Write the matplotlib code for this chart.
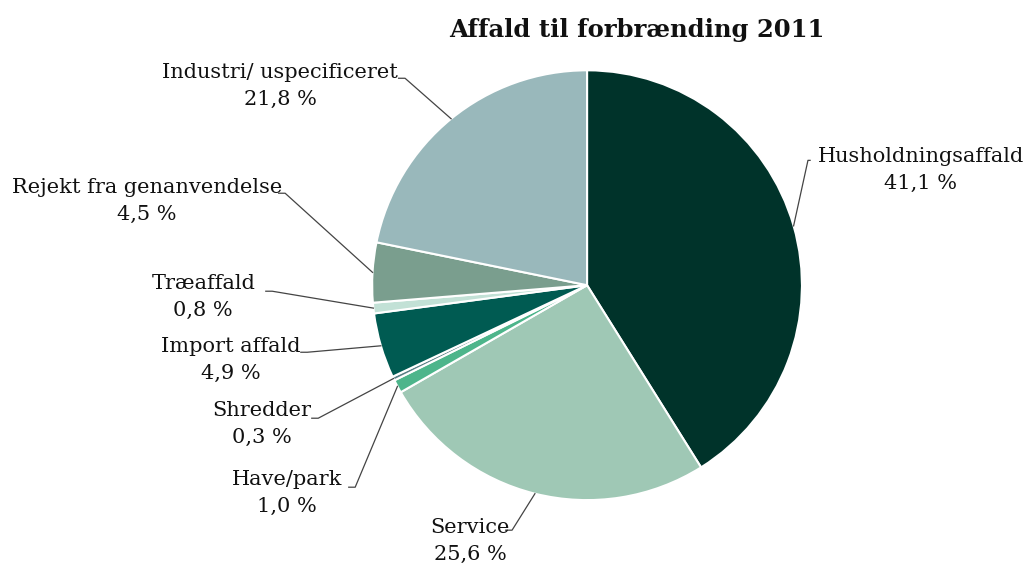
import matplotlib
matplotlib.use("Agg")
import matplotlib.pyplot as plt
import numpy as np

plt.rcParams['font.family'] = ['DejaVu Serif']

# data
categories = ["Husholdningsaffald", "Service", "Have/park", "Shredder",
              "Import affald", "Træaffald", "Rejekt fra genanvendelse",
              "Industri/ uspecificeret"]
shares = [41.1, 25.6, 1.0, 0.3, 4.9, 0.8, 4.5, 21.8]
colors = ["#00332a", "#9fc8b5", "#4db58b", "#5b7f86",
          "#005b52", "#c2e1d6", "#7a9e8e", "#99b8bb"]

# label text centres and leader knees (pie radius = 1)
text_xy = [(1.553, 0.535), (-0.544, -1.191), (-1.395, -0.967), (-1.512, -0.647),
           (-1.660, -0.349), (-1.786, -0.056), (-2.047, 0.391), (-1.428, 0.926)]
knee_xy = [(1.028, 0.581), (-0.349, -1.140), (-1.079, -0.940), (-1.251, -0.619),
           (-1.302, -0.312), (-1.465, -0.028), (-1.405, 0.428), (-0.847, 0.963)]

fig = plt.figure(figsize=(10.32, 5.67), dpi=100)
ax = fig.add_axes([0.3605, 0.118, 0.4167, 0.758])

wedges, _ = ax.pie(shares, colors=colors, startangle=90, counterclock=False,
                   radius=1.0, wedgeprops=dict(edgecolor="white", linewidth=1.5))
ax.set_xlim(-1, 1)
ax.set_ylim(-1, 1)
ax.set_aspect("equal")
ax.axis("off")

for w, name, val, (tx, ty), (kx, ky) in zip(wedges, categories, shares, text_xy, knee_xy):
    ang = np.deg2rad((w.theta1 + w.theta2) / 2)
    px, py = np.cos(ang), np.sin(ang)
    dx = 0.01 if kx > 0 else -0.03
    ax.plot([kx + dx, kx, px], [ky, ky, py], color="#444444", lw=0.9,
            clip_on=False, zorder=3)
    lab = f"{name}\n{val:.1f} %".replace(".", ",")
    ax.text(tx, ty, lab, ha="center", va="center", fontsize=15,
            linespacing=1.5, color="#111111", clip_on=False)

fig.text(0.617, 0.947, "Affald til forbrænding 2011", ha="center", va="center",
         fontsize=17.5, fontweight="bold", color="#111111")

fig.savefig("out.png", dpi=100)
